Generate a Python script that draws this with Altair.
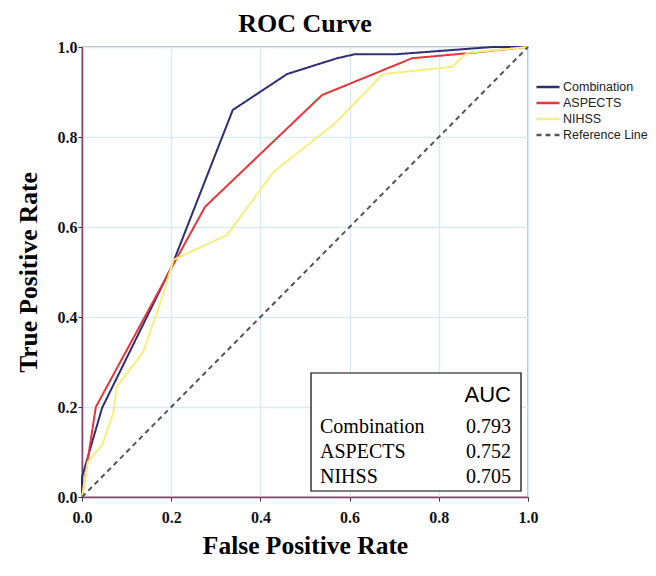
import altair as alt
import pandas as pd

# --- data ---
comb_x = [0.0, 0.0, 0.045, 0.20, 0.338, 0.46, 0.572, 0.612, 0.706, 0.92, 1.0]
comb_y = [0.0, 0.044, 0.198, 0.51, 0.86, 0.94, 0.975, 0.984, 0.984, 1.0, 1.0]

asp_x = [0.0, 0.031, 0.19, 0.276, 0.538, 0.74, 0.863, 1.0]
asp_y = [0.0, 0.20, 0.49, 0.645, 0.893, 0.975, 0.986, 1.0]

nih_x = [0.0, 0.013, 0.045, 0.07, 0.078, 0.137, 0.182, 0.205, 0.325, 0.43, 0.567, 0.675, 0.83, 0.863, 1.0]
nih_y = [0.0, 0.078, 0.115, 0.186, 0.245, 0.322, 0.45, 0.527, 0.582, 0.723, 0.83, 0.94, 0.956, 0.987, 1.0]

ref_x = [0.0, 1.0]
ref_y = [0.0, 1.0]

series_names = ["Combination", "ASPECTS", "NIHSS", "Reference Line"]
series_colors = ["#2E2F72", "#E5363B", "#F6F07A", "#555555"]
series_dash = [[1, 0], [1, 0], [1, 0], [5, 4]]

auc_names = ["Combination", "ASPECTS", "NIHSS"]
auc_values = ["0.793", "0.752", "0.705"]

rows = []
for name, xs, ys in zip(series_names, [comb_x, asp_x, nih_x, ref_x], [comb_y, asp_y, nih_y, ref_y]):
    for i, (a, b) in enumerate(zip(xs, ys)):
        rows.append({"series": name, "fpr": a, "tpr": b, "order": i})
df = pd.DataFrame(rows)

serif = "Liberation Serif"
sans = "Liberation Sans"

lines = alt.Chart(df).mark_line(strokeWidth=2).encode(
    x=alt.X("fpr:Q", title="False Positive Rate",
            scale=alt.Scale(domain=[0, 1], nice=False),
            axis=alt.Axis(values=[0, 0.2, 0.4, 0.6, 0.8, 1.0], format=".1f")),
    y=alt.Y("tpr:Q", title="True Positive Rate",
            scale=alt.Scale(domain=[0, 1], nice=False),
            axis=alt.Axis(values=[0, 0.2, 0.4, 0.6, 0.8, 1.0], format=".1f")),
    color=alt.Color("series:N", title=None,
                    scale=alt.Scale(domain=series_names, range=series_colors),
                    legend=alt.Legend(orient="none", legendX=453, legendY=32,
                                      symbolType="stroke", symbolSize=529,
                                      symbolStrokeWidth=2.5, clipHeight=16,
                                      labelFont=sans, labelFontSize=12.5,
                                      labelColor="#222222", rowPadding=0,
                                      labelOffset=2)),
    strokeDash=alt.StrokeDash("series:N", title=None,
                              scale=alt.Scale(domain=series_names, range=series_dash)),
    order="order:Q",
)

box = alt.Chart(pd.DataFrame({"k": [0]})).mark_rect(
    fill="white", stroke="black", strokeWidth=1.2
).encode(x=alt.value(229), x2=alt.value(439), y=alt.value(326), y2=alt.value(444))

auc_head = alt.Chart(pd.DataFrame({"t": ["AUC"]})).mark_text(
    font=sans, fontSize=22, align="right", baseline="middle", color="black"
).encode(x=alt.value(429), y=alt.value(348), text="t:N")

layers = [lines, box, auc_head]
row_y = [380, 405, 430]
for nm, val, yy in zip(auc_names, auc_values, row_y):
    d = pd.DataFrame({"name": [nm], "auc": [val]})
    layers.append(alt.Chart(d).mark_text(font=serif, fontSize=20, align="left",
                                         baseline="middle", color="black")
                  .encode(x=alt.value(238), y=alt.value(yy), text="name:N"))
    layers.append(alt.Chart(d).mark_text(font=serif, fontSize=20, align="right",
                                         baseline="middle", color="black")
                  .encode(x=alt.value(429), y=alt.value(yy), text="auc:N"))

chart = alt.layer(*layers).properties(
    width=446, height=450,
    title=alt.TitleParams("ROC Curve", font=serif, fontSize=26, fontWeight="bold",
                          color="black", anchor="middle", offset=2),
    autosize=alt.AutoSizeParams(type="none"),
    padding={"left": 74, "top": 39, "right": 120, "bottom": 71},
).configure_view(
    stroke="#A8A8A8", strokeWidth=1.5
).configure_axis(
    labelFont=serif, labelFontSize=16, labelFontWeight="bold", labelColor="#111111",
    labelFlush=False,
    titleFont=serif, titleFontSize=25.5, titleFontWeight="bold", titleColor="black",
    gridColor="#DCEAF8", gridWidth=1.5,
    domainColor="#8A3F6E", domainWidth=1.5,
    tickColor="#333333", tickSize=4,
).configure_axisX(
    titlePadding=8, labelPadding=8
).configure_axisY(
    titlePadding=16, labelPadding=1
)

chart.save("out.html", embed_options={"renderer": "svg", "actions": False})
